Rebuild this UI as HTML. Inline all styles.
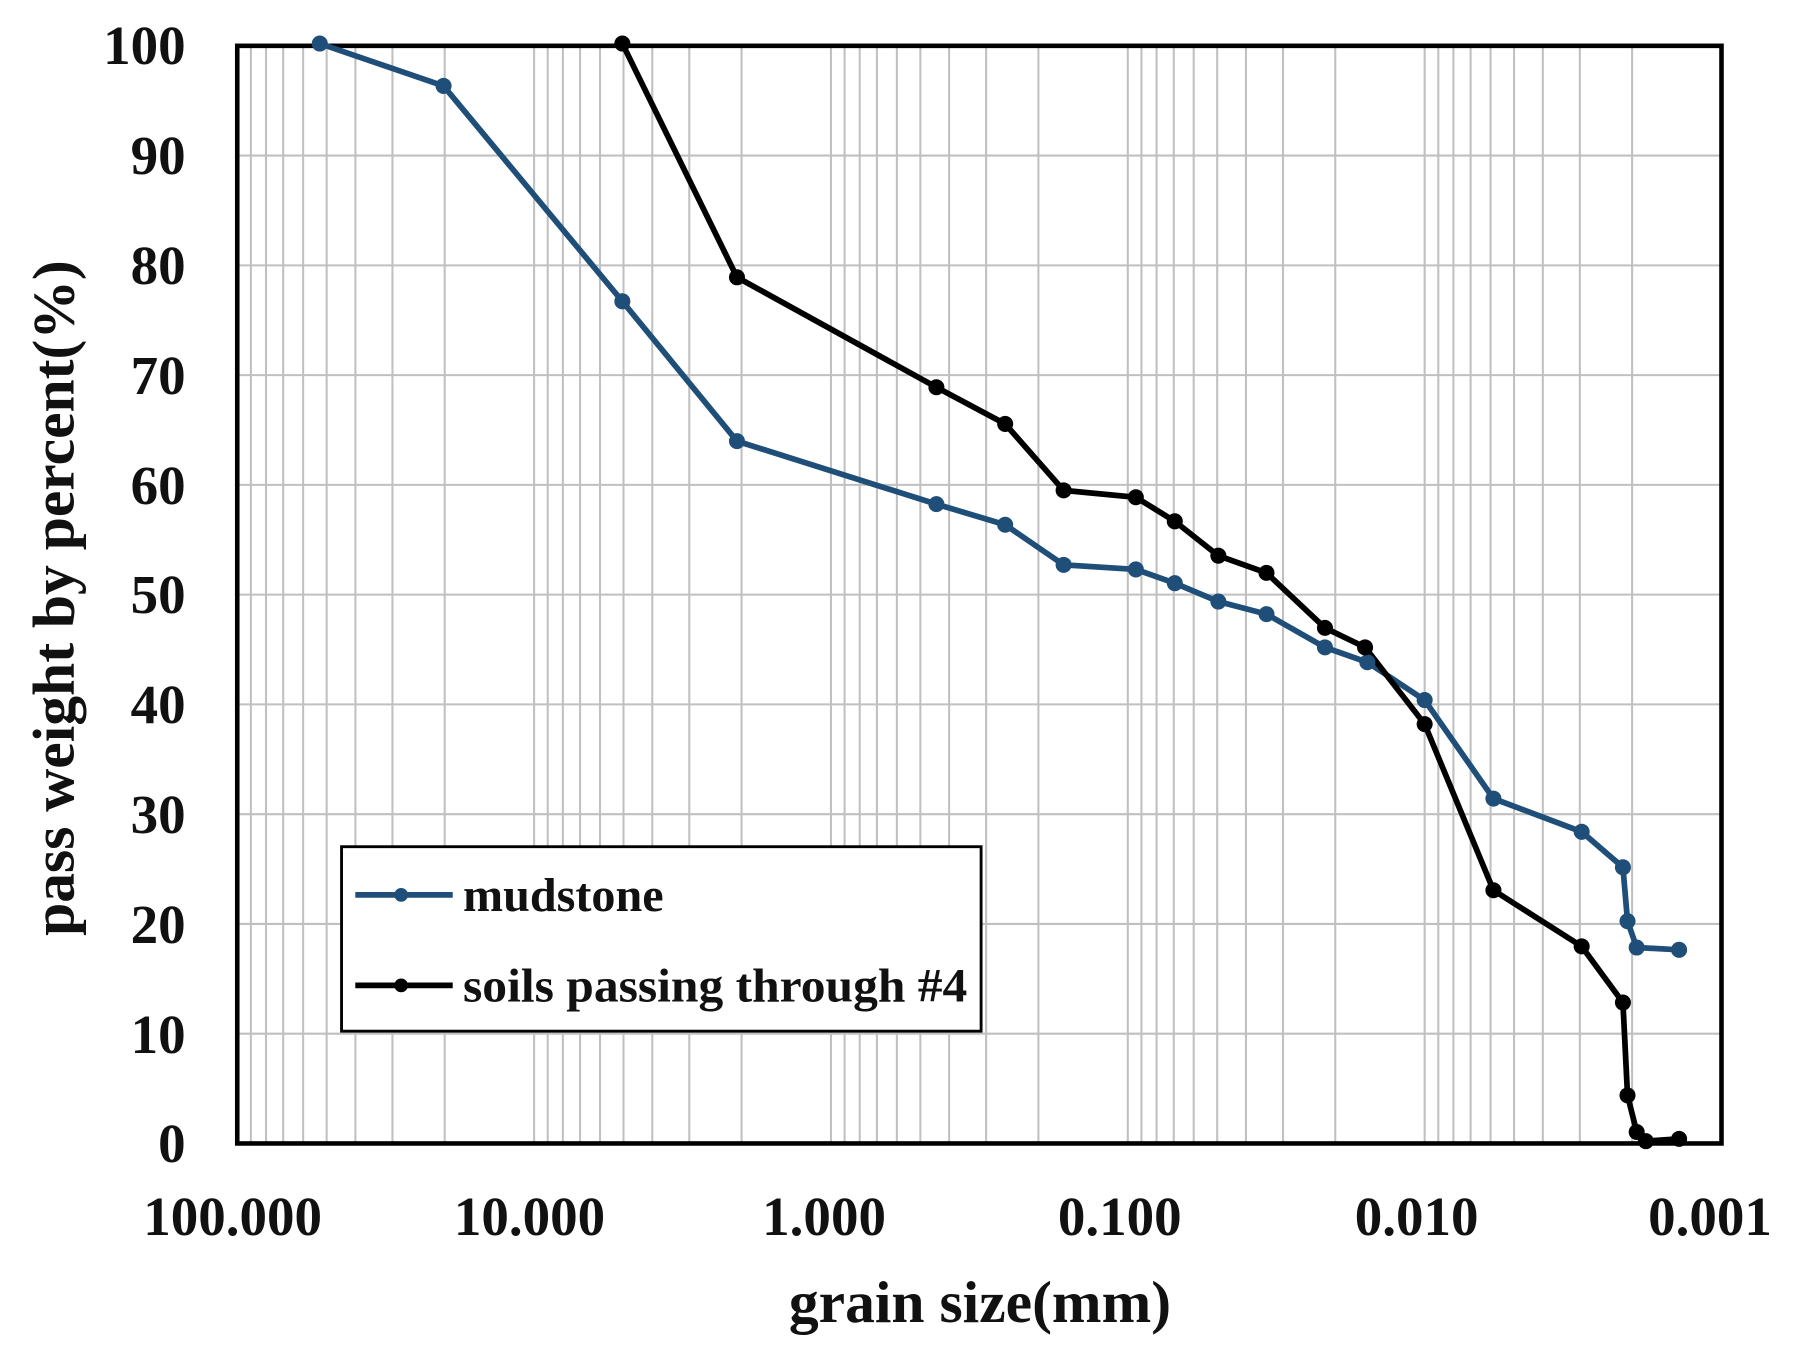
<!DOCTYPE html>
<html><head><meta charset="utf-8"><style>html,body{margin:0;padding:0;background:#fff}svg{display:block}</style></head>
<body>
<svg width="1796" height="1360" viewBox="0 0 1567 1187" preserveAspectRatio="none" xmlns="http://www.w3.org/2000/svg" font-family="Liberation Serif, serif" font-weight="bold">
<path id="gp" d="" stroke="#c0c0c0" stroke-width="1.8" fill="none"/>
<rect x="207" y="40" width="1295" height="958" fill="none" stroke="#000" stroke-width="4"/>
<g font-size="48" text-anchor="end" fill="#111">
<text x="162" y="56">100</text><text x="162" y="152">90</text><text x="162" y="248">80</text><text x="162" y="344">70</text><text x="162" y="440">60</text><text x="162" y="535">50</text><text x="162" y="631">40</text><text x="162" y="727">30</text><text x="162" y="823">20</text><text x="162" y="919">10</text><text x="162" y="1014">0</text>
</g>
<g font-size="48" text-anchor="middle" fill="#111">
<text x="203" y="1078">100.000</text><text x="462" y="1078">10.000</text><text x="719" y="1078">1.000</text><text x="977" y="1078">0.100</text><text x="1236" y="1078">0.010</text><text x="1492" y="1078">0.001</text>
<text x="855" y="1154" font-size="52">grain size(mm)</text>
<text transform="translate(64,522) rotate(-90)" font-size="52">pass weight by percent(%)</text>
</g>
<polyline fill="none" stroke="#1f4e79" stroke-width="5" points="279,38 387,75 543,263 643,385 817,440 877,458 928,493 991,497 1025,509 1063,525 1105,536 1156,565 1193,578 1243,611 1303,697 1380,726 1416,757 1420,804 1428,827 1465,829"/>
<polyline fill="none" stroke="#000" stroke-width="5" points="543,38 643,242 817,338 877,370 928,428 991,434 1025,455 1063,485 1105,500 1156,548 1191,565 1243,632 1303,777 1380,826 1416,875 1420,956 1428,988 1436,996 1465,994"/>
<g id="mk"></g>
<rect x="298" y="739" width="558" height="161" fill="#fff" stroke="#000" stroke-width="2.5"/>
<line x1="310" y1="781" x2="395" y2="781" stroke="#1f4e79" stroke-width="5"/>
<circle cx="350" cy="781" r="6" fill="#1f4e79"/>
<line x1="310" y1="860" x2="395" y2="860" stroke="#000" stroke-width="5"/>
<circle cx="350" cy="860" r="6" fill="#000"/>
<text x="404" y="795" font-size="42" fill="#111">mudstone</text>
<text x="404" y="874" font-size="42" fill="#111" textLength="440" lengthAdjust="spacingAndGlyphs">soils passing through #4</text>
</svg>
<script>
(function(){
var d="";
for(var k=0;k<5;k++){
 for(var m=2;m<=9;m++){var x=207+259*(k+1-Math.log10(m));d+="M"+x.toFixed(1)+",40V998";}
 if(k>0)d+="M"+(207+259*k)+",40V998";}
for(var j=1;j<10;j++){var y=998-95.8*j;d+="M207,"+y.toFixed(1)+"H1502";}
document.getElementById("gp").setAttribute("d",d);
var ns="http://www.w3.org/2000/svg",g=document.getElementById("mk");
function add(pts,c){pts.split(" ").forEach(function(p){var a=p.split(",");var e=document.createElementNS(ns,"circle");e.setAttribute("cx",a[0]);e.setAttribute("cy",a[1]);e.setAttribute("r","7");e.setAttribute("fill",c);g.appendChild(e);});}
add("279,38 387,75 543,263 643,385 817,440 877,458 928,493 991,497 1025,509 1063,525 1105,536 1156,565 1193,578 1243,611 1303,697 1380,726 1416,757 1420,804 1428,827 1465,829","#1f4e79");
add("543,38 643,242 817,338 877,370 928,428 991,434 1025,455 1063,485 1105,500 1156,548 1191,565 1243,632 1303,777 1380,826 1416,875 1420,956 1428,988 1436,996 1465,994","#000");
})();
</script>
</body></html>
